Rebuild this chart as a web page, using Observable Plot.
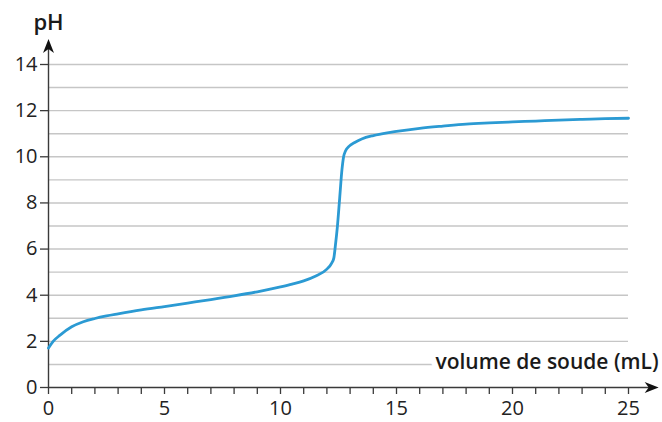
<!DOCTYPE html>
<html>
<head>
<meta charset="utf-8">
<script src="https://cdn.jsdelivr.net/npm/d3@7"></script>
<script src="https://cdn.jsdelivr.net/npm/@observablehq/plot@0.6"></script>
<style>
  html, body { margin: 0; padding: 0; background: #fff; }
  #chart svg { display: block; }
</style>
</head>
<body>
<div id="chart"></div>
<script>
// ---- data ----
const volume = [0, 0.2, 0.5, 1.0, 1.5, 2.0, 2.5, 3, 4, 5, 6, 7, 8, 9, 10, 10.5, 11, 11.5, 12, 12.2, 12.3, 12.36, 12.45, 12.55, 12.65, 12.72, 12.8, 12.95, 13.2, 13.5, 14, 14.6, 15, 16, 17, 18, 19, 20, 21, 22, 23, 24, 25];
const pH = [1.71, 2.0, 2.27, 2.63, 2.85, 2.99, 3.1, 3.19, 3.36, 3.51, 3.66, 3.81, 3.97, 4.15, 4.36, 4.48, 4.62, 4.82, 5.13, 5.38, 5.62, 6.1, 6.95, 8.2, 9.45, 10.0, 10.25, 10.45, 10.62, 10.77, 10.92, 11.04, 11.1, 11.23, 11.33, 11.42, 11.47, 11.51, 11.55, 11.59, 11.62, 11.65, 11.67];
const xTicks = d3.range(0, 26, 1);
const xTickLabels = [0, 5, 10, 15, 20, 25];
const yTicks = [0, 2, 4, 6, 8, 10, 12, 14];
const gridValues = d3.range(1, 15, 1);
const xTitle = "volume de soude (mL)";
const yTitle = "pH";
const xArrowEnd = 26.3;
const yArrowEnd = 15.1;

const data = volume.map((v, i) => ({volume: v, pH: pH[i]}));

// filled arrowhead symbol, tip at origin pointing up
const arrowHead = {
  draw(ctx) {
    ctx.moveTo(0, 0);
    ctx.lineTo(-5.5, 14);
    ctx.lineTo(0, 10);
    ctx.lineTo(5.5, 14);
    ctx.closePath();
  }
};

const axisColor = "#3a3a3a";
const font = "'Open Sans', sans-serif";

const chart = Plot.plot({
  width: 662,
  height: 422,
  marginLeft: 48,
  marginRight: 34,
  marginTop: 64,
  marginBottom: 35,
  style: {fontFamily: font, color: "#222", background: "#fff"},
  x: {domain: [0, 25]},
  y: {domain: [0, 14]},
  marks: [
    Plot.ruleY(gridValues, {x1: 0, x2: 25, stroke: "#c6c6c6", strokeWidth: 1.4}),
    Plot.axisX(xTicks, {
      tickSize: 7, stroke: axisColor, strokeWidth: 1.3, text: null, label: null
    }),
    Plot.axisY(yTicks, {
      tickSize: 8, stroke: axisColor, strokeWidth: 1.3, text: null, label: null
    }),
    Plot.text(xTickLabels, {
      x: d => d, y: 0, text: d => String(d), dy: 21,
      fontSize: 20, fill: "#222"
    }),
    Plot.text(yTicks, {
      x: 0, y: d => d, text: d => String(d), dx: -11, textAnchor: "end",
      fontSize: 20, fill: "#222"
    }),
    Plot.ruleY([0], {x1: 0, x2: xArrowEnd - 0.3, stroke: axisColor, strokeWidth: 1.4}),
    Plot.ruleX([0], {y1: 0, y2: yArrowEnd - 0.3, stroke: axisColor, strokeWidth: 1.4}),
    Plot.dot([{x: xArrowEnd, y: 0}], {x: "x", y: "y", symbol: arrowHead, fill: "#111", stroke: "none", rotate: 90, r: 6}),
    Plot.dot([{x: 0, y: yArrowEnd}], {x: "x", y: "y", symbol: arrowHead, fill: "#111", stroke: "none", r: 6}),
    Plot.text([xTitle], {
      x: xArrowEnd, y: 1, text: d => d, textAnchor: "end", dy: -2,
      fontSize: 21, fontWeight: 600, fill: "#1a1a1a",
      stroke: "white", strokeWidth: 12, strokeLinejoin: "round"
    }),
    Plot.text([yTitle], {
      x: 0, y: yArrowEnd, text: d => d, dy: -16,
      fontSize: 22, fontWeight: 600, fill: "#1a1a1a"
    }),
    Plot.line(data, {x: "volume", y: "pH", stroke: "#2b9ad3", strokeWidth: 2.8, curve: "monotone-x"})
  ]
});

document.getElementById("chart").appendChild(chart);
</script>
</body>
</html>
